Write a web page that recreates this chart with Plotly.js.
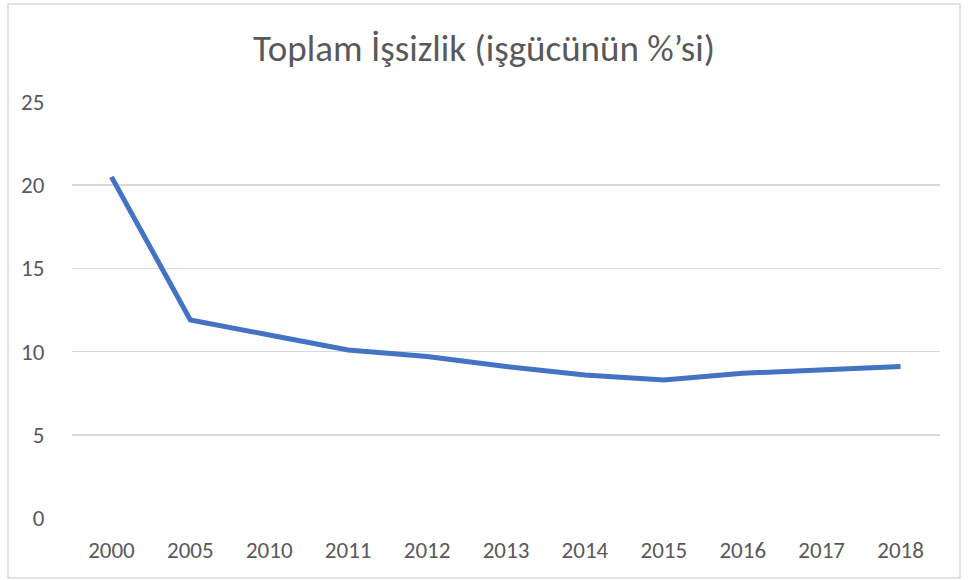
<!DOCTYPE html>
<html>
<head>
<meta charset="utf-8">
<script src="https://cdn.plot.ly/plotly-3.0.1.min.js"></script>
<style>
html,body{margin:0;padding:0;background:#fff;}
#chart{width:968px;height:580px;}
</style>
</head>
<body>
<div id="chart"></div>
<script>
const years = ["2000","2005","2010","2011","2012","2013","2014","2015","2016","2017","2018"];
const unemployment = [20.5, 11.9, 11.0, 10.1, 9.7, 9.1, 8.6, 8.3, 8.7, 8.9, 9.1];
const yTicks = [0, 5, 10, 15, 20, 25];
const titleText = "Toplam İşsizlik (işgücünün %’si)";

const fontFam = "Carlito, Lato, 'Liberation Sans', Arial, sans-serif";

const trace = {
  x: years,
  y: unemployment,
  type: "scatter",
  mode: "lines",
  line: {color: "#4472C4", width: 5, shape: "linear"},
  hoverinfo: "x+y"
};

const layout = {
  width: 968,
  height: 580,
  margin: {l: 72, r: 28, t: 102, b: 62, pad: 0},
  paper_bgcolor: "#ffffff",
  plot_bgcolor: "#ffffff",
  showlegend: false,
  title: {
    text: titleText,
    font: {family: fontFam, size: 37, color: "#595959"},
    x: 0.5, xanchor: "center",
    y: 1 - 48/580, yanchor: "middle"
  },
  xaxis: {
    type: "category",
    showgrid: false,
    zeroline: false,
    showline: false,
    ticks: "outside",
    ticklen: 11,
    tickcolor: "rgba(0,0,0,0)",
    tickfont: {family: fontFam, size: 23, color: "#595959"},
    range: [-0.5, years.length - 0.5]
  },
  yaxis: {
    range: [0, 25],
    tickvals: yTicks,
    showgrid: true,
    gridcolor: "#d9d9d9",
    gridwidth: 1.5,
    zeroline: false,
    showline: false,
    ticks: "outside",
    ticklen: 22,
    tickcolor: "rgba(0,0,0,0)",
    tickfont: {family: fontFam, size: 23, color: "#595959"}
  },
  shapes: [{
    type: "rect",
    xref: "paper", yref: "paper",
    x0: (8-72)/868, x1: (960-72)/868,
    y0: (518-578)/416, y1: (518-4)/416,
    line: {color: "#d9d9d9", width: 1.5},
    fillcolor: "rgba(0,0,0,0)",
    layer: "below"
  }]
};

Plotly.newPlot("chart", [trace], layout, {displayModeBar: false, staticPlot: true});
</script>
</body>
</html>
